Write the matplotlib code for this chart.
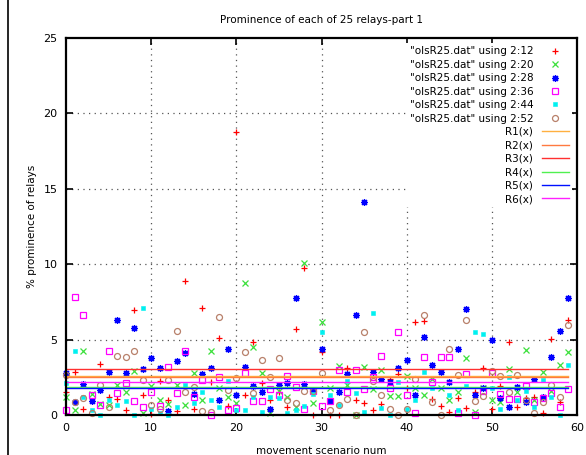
import numpy as np
import matplotlib
matplotlib.use('Agg')
from matplotlib import pyplot as plt
from matplotlib.lines import Line2D

scenario = np.arange(60)

col12 = [1.5, 2.83, 0.38, 0.9, 3.36, 1.2, 1.06, 0.33, 6.96, 1.33,
         0.05, 2.25, 1.0, 0.26, 8.87, 0.38, 7.07, 2.2, 5.13, 0.6,
         18.75, 1.33, 4.86, 2.1, 1.0, 1.5, 0.5, 5.68, 9.73, 0.0,
         4.2, 0.0, 0.0, 3.13, 1.0, 0.8, 0.3, 0.73, 2.37, 2.72,
         1.8, 6.15, 6.23, 1.06, 0.6, 0.2, 1.15, 0.44, 1.5, 3.09,
         0.37, 1.9, 4.86, 0.5, 1.13, 1.2, 0.1, 5.06, 0.84, 6.28]
col20 = [1.21, 0.33, 4.24, 1.41, 0.7, 0.64, 2.0, 1.5, 2.94, 0.1,
         1.95, 1.0, 0.73, 2.0, 0.64, 2.76, 1.0, 4.24, 1.8, 1.2,
         0.77, 8.73, 4.53, 2.76, 0.15, 1.6, 1.2, 0.5, 10.1, 0.78,
         6.15, 1.8, 3.27, 2.0, 0.0, 3.18, 1.7, 2.96, 1.28, 1.26,
         2.56, 1.8, 1.35, 2.4, 1.8, 1.0, 1.5, 3.78, 0.2, 1.8,
         1.0, 0.84, 3.03, 1.5, 4.31, 1.0, 2.83, 1.6, 3.3, 4.18]
col28 = [2.8, 0.84, 2.03, 0.93, 1.66, 2.87, 6.28, 2.76, 5.75, 3.07,
         3.78, 3.12, 0.27, 3.58, 4.1, 1.39, 2.72, 3.1, 1.0, 4.4,
         1.35, 3.2, 1.9, 1.55, 0.4, 2.0, 2.1, 7.78, 2.03, 1.61,
         4.37, 0.9, 1.55, 2.74, 6.63, 14.15, 2.86, 2.37, 2.2, 3.1,
         3.65, 1.33, 5.14, 3.3, 2.86, 2.2, 4.38, 7.03, 1.3, 1.8,
         4.95, 1.15, 0.55, 1.88, 0.84, 2.41, 1.2, 3.85, 5.59, 7.78]
col36 = [0.33, 7.85, 6.6, 1.35, 0.64, 4.24, 1.46, 2.1, 0.93, 0.5,
         1.54, 0.6, 3.2, 1.49, 4.27, 1.17, 2.3, 0.0, 2.49, 0.32,
         0.44, 2.76, 0.93, 0.93, 1.7, 1.35, 2.57, 1.88, 0.38, 1.61,
         0.6, 0.95, 2.96, 1.55, 2.96, 1.7, 2.52, 3.9, 1.8, 5.53,
         1.34, 0.1, 3.85, 2.18, 3.85, 3.85, 0.1, 2.7, 0.0, 1.6,
         2.76, 1.4, 1.06, 1.06, 1.9, 0.86, 1.1, 1.46, 0.5, 1.72]
col44 = [2.14, 4.22, 1.21, 0.3, 0.0, 1.0, 0.64, 0.9, 0.0, 7.07,
         0.4, 0.1, 0.0, 0.53, 2.0, 0.8, 1.55, 1.0, 0.5, 2.28,
         0.35, 0.33, 1.2, 0.21, 1.21, 1.1, 0.1, 0.33, 0.6, 1.39,
         5.52, 1.32, 0.66, 2.28, 1.44, 0.2, 6.74, 0.48, 0.02, 2.2,
         0.4, 1.0, 2.87, 1.8, 21.5, 1.3, 0.33, 1.9, 5.5, 5.37,
         1.8, 0.4, 2.5, 1.0, 1.6, 0.5, 2.32, 1.2, 0.0, 3.32]
col52 = [2.63, 0.84, 1.15, 0.13, 2.0, 0.5, 3.9, 3.85, 4.27, 2.32,
         0.65, 0.37, 2.3, 5.59, 1.51, 1.86, 0.24, 0.22, 6.5, 1.65,
         2.44, 4.17, 1.45, 3.63, 2.49, 3.77, 1.0, 0.8, 1.6, 1.59,
         2.76, 0.33, 0.66, 1.05, 0.0, 5.53, 2.28, 1.3, 0.38, 0.0,
         0.38, 2.37, 6.61, 0.83, 0.0, 4.38, 2.63, 6.28, 0.95, 1.28,
         2.9, 2.6, 1.5, 2.63, 1.0, 0.15, 0.84, 2.0, 1.17, 5.95]

series_cols = ['12', '20', '28', '36', '44', '52']
series_vals = [col12, col20, col28, col36, col44, col52]

relay_names = ['R1(x)', 'R2(x)', 'R3(x)', 'R4(x)', 'R5(x)', 'R6(x)']
relay_levels = [2.57, 2.55, 3.03, 1.88, 1.81, 2.17]

# gnuplot-ish point styles
styles = [
    dict(marker='+', color='#ff0000', ms=5, mew=0.9, mfc='none'),
    dict(marker='x', color='#3ce03c', ms=4, mew=0.9, mfc='none'),
    dict(marker=(8, 2, 0), color='#0000ff', ms=5, mew=0.9, mfc='none'),
    dict(marker='s', color='#ff00ff', ms=3.8, mew=0.9, mfc='none'),
    dict(marker='s', color='#00f0f0', ms=3.4, mew=0.4, mfc='#00f0f0'),
    dict(marker='o', color='#b8806a', ms=4.3, mew=0.9, mfc='none'),
]
line_colors = ['#ffb040', '#ff7a40', '#ff3030', '#50f050', '#0010ff', '#ff20ff']

fig = plt.figure(figsize=(5.86, 4.55), dpi=100)
ax = fig.add_axes([66/586, 40/455, 511/586, 377/455])

handles = []
labels = []
for col, vals, st in zip(series_cols, series_vals, styles):
    h, = ax.plot(scenario, vals, linestyle='none', clip_on=False, **st)
    handles.append(h)
    labels.append('"olsR25.dat" using 2:' + col)

for name, lev, c in zip(relay_names, relay_levels, line_colors):
    h, = ax.plot(scenario, np.full(len(scenario), lev), color=c, lw=1.0)
    handles.append(h)
    labels.append(name)

ax.set_xlim(0, 60)
ax.set_ylim(0, 25)
ax.set_xticks(np.arange(0, 61, 10))
ax.set_yticks(np.arange(0, 26, 5))
ax.tick_params(direction='in', length=5, width=1.2, top=True, right=True,
               labelsize=8, pad=6)
for sp in ax.spines.values():
    sp.set_linewidth(1.6)

# dotted grid, only interior lines
for gx in range(10, 60, 10):
    ax.axvline(gx, color='#555555', lw=0.9, ls=(0, (1, 3.5)), zorder=0)
for gy in range(5, 25, 5):
    ax.axhline(gy, color='#555555', lw=0.9, ls=(0, (1, 3.5)), zorder=0)

ax.set_title('Prominence of each of 25 relays-part 1', fontsize=7.5, pad=11)
ax.set_xlabel('movement scenario num', fontsize=7.5, labelpad=9)
ax.set_ylabel('% prominence of relays', fontsize=7.5, labelpad=5)

leg = ax.legend(handles, labels, loc='upper right', fontsize=7.5,
                markerfirst=False, frameon=True, framealpha=1,
                edgecolor='none', fancybox=False, labelspacing=0.33,
                handlelength=2.6, handletextpad=0.8, borderpad=0.3,
                borderaxespad=0.5)
leg.set_zorder(5)

# page border line at the left edge
fig.add_artist(Line2D([8/586, 8/586], [0, 1], color='black', lw=1.2))

fig.savefig('out.png', dpi=100)
